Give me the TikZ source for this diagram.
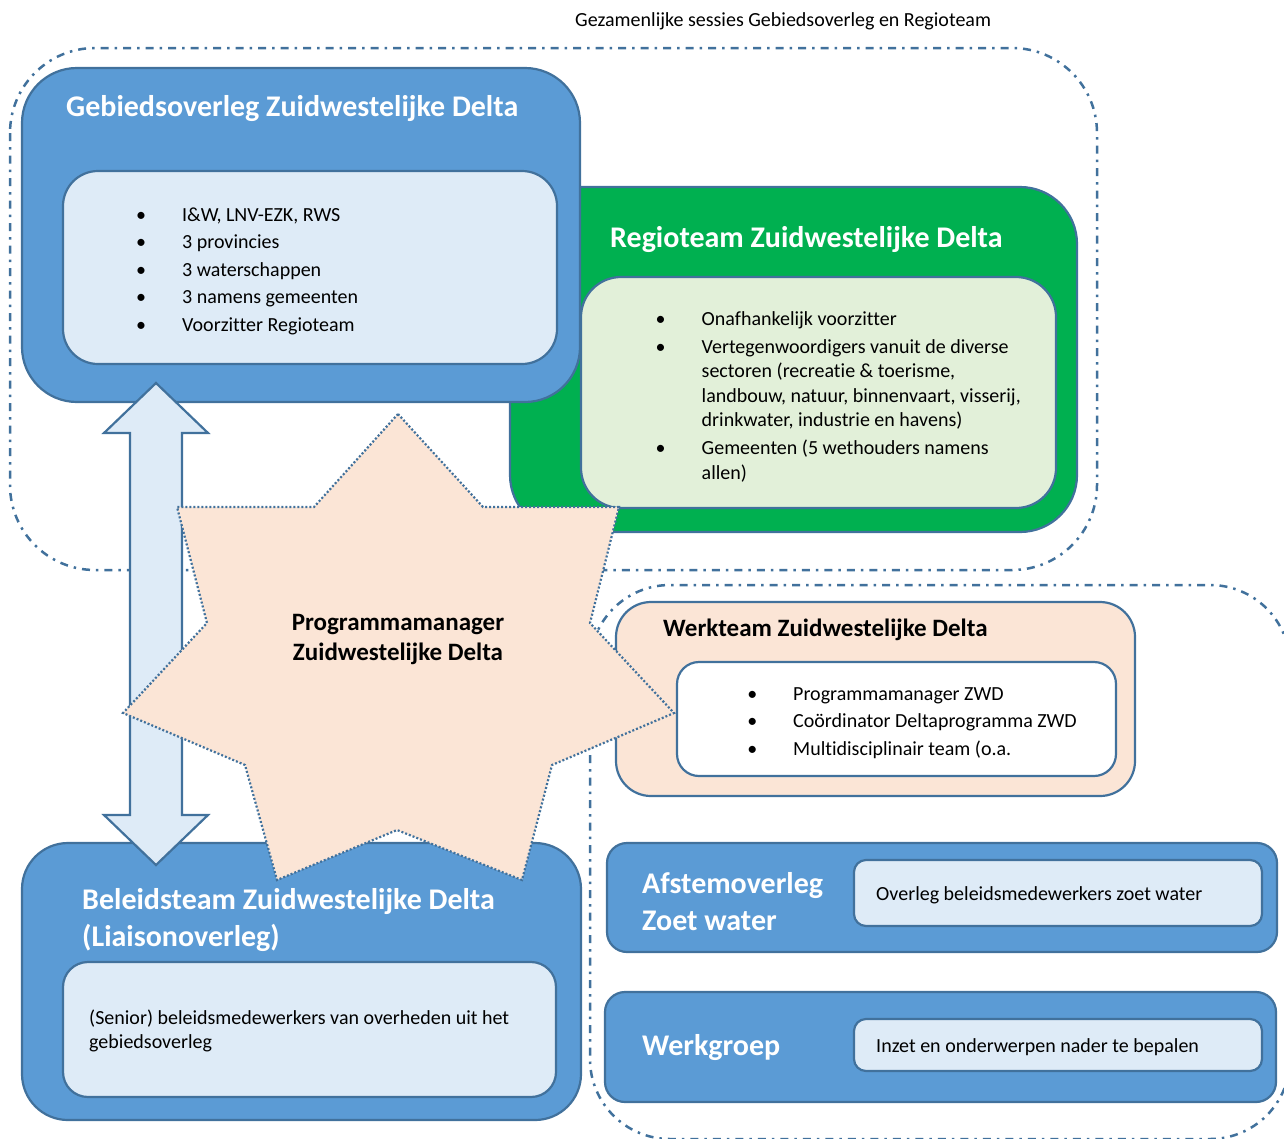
\documentclass[tikz,border=0pt]{standalone}
\usepackage{fontspec}
\setmainfont{Carlito}[Ligatures=CommonOff]
\usetikzlibrary{positioning}
\definecolor{midblue}{HTML}{5B9BD5}
\definecolor{edgeblue}{HTML}{41719C}
\definecolor{paleblue}{HTML}{DEEBF7}
\definecolor{teamgreen}{HTML}{00B050}
\definecolor{palegreen}{HTML}{E2F0D9}
\definecolor{peach}{HTML}{FBE5D6}
\newcommand{\lbul}{\llap{\textbullet\hspace{36pt}}}

\begin{document}
\begin{tikzpicture}[x=1pt,y=-1pt,
  box/.style={draw=edgeblue,line width=2.2pt,rounded corners=#1,inner sep=0pt,outer sep=0pt},
  groupline/.style={draw=edgeblue,line width=2.5pt,dash pattern=on 8pt off 6pt on 2.5pt off 6pt,rounded corners=#1},
  head/.style={font=\bfseries\fontsize{30}{36.5}\selectfont,text=white,anchor=base west,inner sep=0pt},
  body/.style={font=\fontsize{20}{24.5}\selectfont,anchor=base west,inner sep=0pt}]
	\useasboundingbox (0,0) rectangle (1284,1138);
	\clip (0,0) rectangle (1284,1138);
	
	% groepen
	\draw[groupline=85] (10,48) rectangle (1097,570);
	\draw[groupline=80] (590,585) rectangle (1290,1139);
	
	\node[box=57,fill=teamgreen,minimum width=567pt,minimum height=345pt] (regio) at (793.5,359.5) {};
	\node[box=40,fill=palegreen,minimum width=475pt,minimum height=231pt] (regioin) at (818.5,392.5) {};
	\node[head] (regiotitle) at (610,247) {Regioteam Zuidwestelijke Delta};
	\node[body] (regiolist) at (701.5,325) {\begin{tabular}[t]{@{}l@{}}
		\lbul Onafhankelijk voorzitter\\[3.5pt]
		\lbul Vertegenwoordigers vanuit de diverse\\
		sectoren (recreatie \& toerisme,\\
		landbouw, natuur, binnenvaart, visserij,\\
		drinkwater, industrie en havens)\\[3.5pt]
		\lbul Gemeenten (5 wethouders namens\\
		allen)\end{tabular}};
	
	\node[box=55,fill=midblue,minimum width=558pt,minimum height=334pt] (gebied) at (301,235) {};
	\node[box=35,fill=paleblue,minimum width=494pt,minimum height=193pt] (gebiedin) at (310,267.5) {};
	\node[head] (gebiedtitle) at (66,116.5) {Gebiedsoverleg Zuidwestelijke Delta};
	\node[body] (gebiedlist) at (182,221) {\begin{tabular}[t]{@{}l@{}}
		\lbul I\&W, LNV-EZK, RWS\\[3pt]
		\lbul 3 provincies\\[3pt]
		\lbul 3 waterschappen\\[3pt]
		\lbul 3 namens gemeenten\\[3pt]
		\lbul Voorzitter Regioteam\end{tabular}};
	
	\node[box=46,fill=midblue,minimum width=559pt,minimum height=277pt] (beleid) at (301.5,981.5) {};
	\node[box=25,fill=paleblue,minimum width=493pt,minimum height=135pt] (beleidin) at (309.5,1029.5) {};
	\node[head] (beleidtitle) at (82,909.5) {\begin{tabular}[t]{@{}l@{}}Beleidsteam Zuidwestelijke Delta\\(Liaisonoverleg)\end{tabular}};
	\node[body] (beleidtext) at (89,1024) {\begin{tabular}[t]{@{}l@{}}(Senior) beleidsmedewerkers van overheden uit het\\gebiedsoverleg\end{tabular}};
	
	\node[box=35,fill=peach,minimum width=519pt,minimum height=194pt] (werkteam) at (875.5,699) {};
	\node[box=22,fill=white,minimum width=439pt,minimum height=114pt] (werkteamin) at (896.5,719) {};
	\node[head,text=black,font=\bfseries\fontsize{25}{30}\selectfont] (werkteamtitle) at (663,636) {Werkteam Zuidwestelijke Delta};
	\node[body] (werkteamlist) at (793,700) {\begin{tabular}[t]{@{}l@{}}
		\lbul Programmamanager ZWD\\[3pt]
		\lbul Coördinator Deltaprogramma ZWD\\[3pt]
		\lbul Multidisciplinair team (o.a.\end{tabular}};
	
	\node[box=20,fill=midblue,minimum width=670pt,minimum height=109pt] (afstem) at (942,897.5) {};
	\node[box=12,fill=paleblue,minimum width=408pt,minimum height=66pt] (afstemin) at (1058,893) {};
	\node[head] (afstemtitle) at (642,893.5) {\begin{tabular}[t]{@{}l@{}}Afstemoverleg\\Zoet water\end{tabular}};
	\node[body] (afstemtext) at (876,900) {Overleg beleidsmedewerkers zoet water};
	
	\node[box=20,fill=midblue,minimum width=671pt,minimum height=110pt] (werkgroep) at (940.5,1047) {};
	\node[box=12,fill=paleblue,minimum width=408pt,minimum height=52pt] (werkgroepin) at (1058,1045) {};
	\node[head] (werkgroeptitle) at (642,1055) {Werkgroep};
	\node[body] (werkgroeptext) at (876,1052) {Inzet en onderwerpen nader te bepalen};
	
	% pijl tussen gebiedsoverleg en beleidsteam
	\draw[draw=edgeblue,line width=2.2pt,fill=paleblue,line join=miter]
		(156,383) -- (208,433) -- (182,433) -- (182,815) -- (208,815) -- (156,865)
		-- (104,815) -- (130,815) -- (130,433) -- (104,433) -- cycle;
	
	% ster programmamanager
	\draw[draw=edgeblue,line width=2.2pt,dash pattern=on 2pt off 2pt,fill=peach]
		(398,414) -- (483,507) -- (619,507) -- (590,623) -- (674,713) -- (552,765)
		-- (522,880) -- (397,830) -- (277,880) -- (245,765) -- (123,713) -- (207,623)
		-- (177,507) -- (314,507) -- cycle;
	\node[font=\bfseries\fontsize{25}{29.5}\selectfont,anchor=base,inner sep=0pt] (pm) at (398,630.5)
		{\begin{tabular}[t]{@{}c@{}}Programmamanager\\Zuidwestelijke Delta\end{tabular}};
	
	\node[body] (session) at (575,26.5) {Gezamenlijke sessies Gebiedsoverleg en Regioteam};
\end{tikzpicture}
\end{document}
